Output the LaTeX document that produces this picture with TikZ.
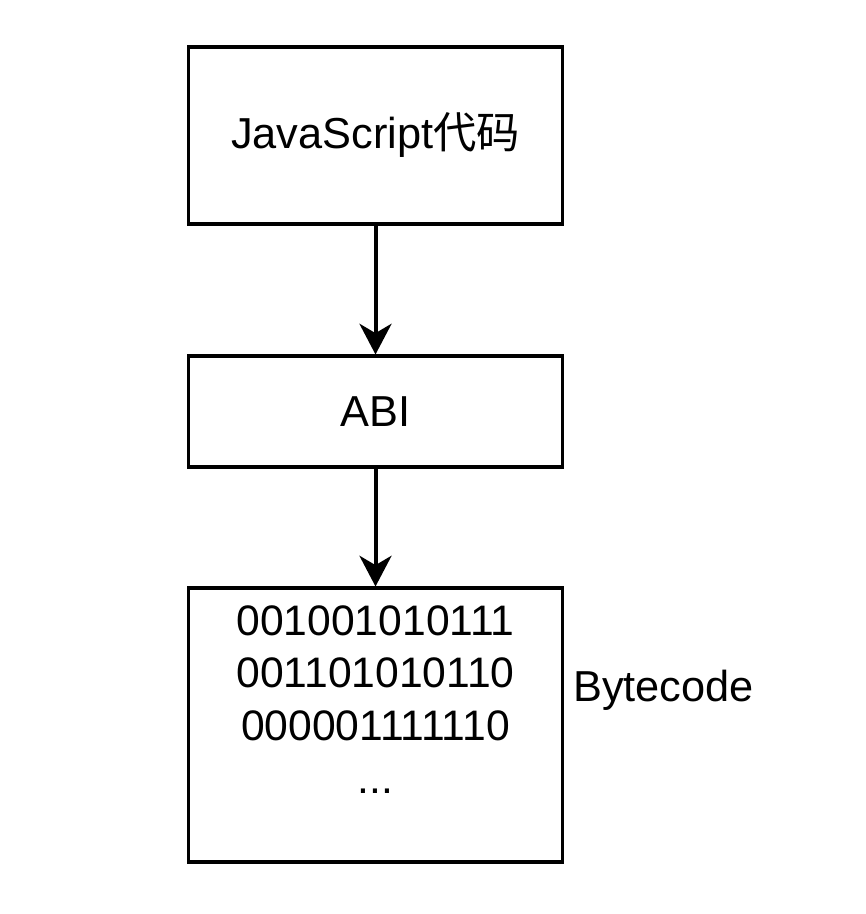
\documentclass[tikz,border=0pt]{standalone}
\usepackage{fontspec}
\setmainfont{Liberation Sans}
\newfontfamily\cjk{Noto Sans CJK SC}
\usetikzlibrary{arrows.meta,positioning}
\tikzset{
  every node/.style={font=\fontsize{32.5}{40}\selectfont},
  box/.style={draw=black,line width=2.3pt,fill=white,minimum width=281pt,inner sep=0pt},
  txt/.style={align=center,inner sep=0pt,font=\fontsize{32}{39.5}\selectfont},
  ar/.style={-{Stealth[length=23pt,width=24pt,inset=7pt]},draw=black,line width=3pt},
}
\begin{document}
\begin{tikzpicture}[x=0.75pt,y=-0.75pt]
\useasboundingbox (0,0) rectangle (866,914);

% ---- boxes ----
\node[box,minimum height=132.75pt] (js) at (375.5,135.5) {JavaScript{\cjk 代码}};
\node[box,minimum height=83.25pt] (abi) at (375.5,411.5) {ABI};
\node[box,minimum height=205.5pt] (bc) at (375.5,725) {};
\node[txt,anchor=north] (bits) at (375.5,605)
  {001001010111\\001101010110\\000001111110\\...};
\node[anchor=west,inner sep=0pt] (lbl) at (573,690) {Bytecode};

% ---- arrows ----
\draw[ar] (js.south) -- (abi.north);
\draw[ar] (abi.south) -- (bc.north);

\end{tikzpicture}
\end{document}
